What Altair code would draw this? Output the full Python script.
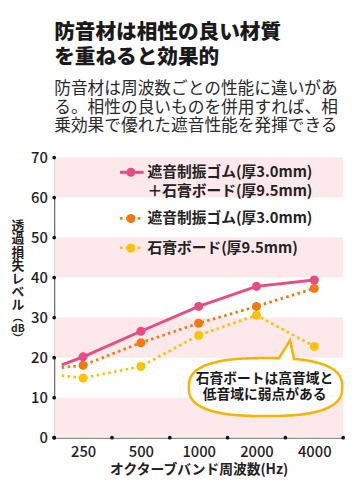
import altair as alt
import pandas as pd
import numpy as np

FONT = "Noto Sans CJK JP"

# ---- data ----
freq_labels = ["250", "500", "1000", "2000", "4000"]
freq_pos = [0, 1, 2, 3, 4]
combo_vals = [20.2, 26.6, 32.8, 37.8, 39.4]    # 遮音制振ゴム+石膏ボード
rubber_vals = [18.1, 23.7, 28.6, 32.8, 37.3]   # 遮音制振ゴム
board_vals = [14.9, 17.8, 25.6, 30.6, 22.8]    # 石膏ボード
start_pos = -0.37
combo_start = 18.2
rubber_start = 17.5
board_start = 15.5
stripe_lo = [0, 20, 40, 60]
y_tick_vals = [0, 10, 20, 30, 40, 50, 60, 70]
x_bound_vals = [-0.5, 0.5, 1.5, 2.5, 3.5, 4.5]

PINK = "#ea4b80"
ORANGE = "#f07a10"
YELLOW = "#fdc300"
STRIPE = "#fde8eb"
AX = "#666666"

W, H = 294, 285

xs = alt.Scale(domain=[-0.5, 4.5], nice=False, zero=False)
ys = alt.Scale(domain=[0, 70], nice=False, zero=True)

label_expr = "[" + ",".join(f"'{l}'" for l in freq_labels) + "][datum.value]"

XAX = alt.Axis(
    values=freq_pos, labelExpr=label_expr, ticks=False, grid=False,
    domainColor=AX, domainWidth=1.2, labelFont=FONT, labelFontSize=15,
    labelFontWeight=500, labelColor="#222", labelPadding=7,
    title="オクターブバンド周波数(Hz)", titleFont=FONT, titleFontSize=14,
    titleFontWeight="bold", titleColor="#222", titlePadding=3)
YAX = alt.Axis(
    values=y_tick_vals, ticks=False, grid=False, domainColor=AX,
    domainWidth=1.2, labelFont=FONT, labelFontSize=15, labelFontWeight=500,
    labelColor="#222", labelPadding=7, title=None)


def X(field):
    return alt.X(field, scale=xs, axis=XAX, title="オクターブバンド周波数(Hz)")


def Y(field):
    return alt.Y(field, scale=ys, axis=YAX, title=None)


def series_df(start, vals):
    return pd.DataFrame({"x": [start_pos] + freq_pos, "y": [start] + vals})


def pts_df(vals):
    return pd.DataFrame({"x": freq_pos, "y": vals})


stripes_df = pd.DataFrame({"y": stripe_lo, "hi": [v + 10 for v in stripe_lo],
                           "x": [-0.5] * 4, "x1": [4.5] * 4})

stripes = alt.Chart(stripes_df).mark_rect(color=STRIPE).encode(
    x=X("x:Q"), x2="x1:Q", y=Y("y:Q"), y2="hi:Q")


def line_layer(start, vals, color, dash=None, width=3.0):
    kw = dict(color=color, strokeWidth=width, clip=False)
    if dash:
        kw["strokeDash"] = dash
    return alt.Chart(series_df(start, vals)).mark_line(**kw).encode(
        x=X("x:Q"), y=Y("y:Q"))


def pt_layer(vals, color):
    return alt.Chart(pts_df(vals)).mark_point(
        filled=True, opacity=1, color=color, size=85, shape="circle").encode(
        x=X("x:Q"), y=Y("y:Q"))


board_line = line_layer(board_start, board_vals, YELLOW, [2.6, 3.4], 2.8)
rubber_line = line_layer(rubber_start, rubber_vals, ORANGE, [2.6, 3.4], 2.8)
combo_line = line_layer(combo_start, combo_vals, PINK, None, 3.0)

ydots = alt.Chart(pd.DataFrame({"y": y_tick_vals, "x": [-0.5] * len(y_tick_vals)})).mark_point(
    filled=True, opacity=1, color="#111", size=14, clip=False).encode(
    x=X("x:Q"), y=Y("y:Q"))
xdots = alt.Chart(pd.DataFrame({"x": x_bound_vals, "y": [0] * len(x_bound_vals)})).mark_point(
    filled=True, opacity=1, color="#111", size=14, clip=False).encode(
    x=X("x:Q"), y=Y("y:Q"))

one = pd.DataFrame({"k": [0]})

# ---- callout bubble (superellipse with a tail) ----
n_exp, bh = 2.6, 0.378
pts = []
tip_done = False
for t in np.linspace(-np.pi / 2, 1.5 * np.pi, 361):
    c, s = np.cos(t), np.sin(t)
    px = np.sign(c) * abs(c) ** (2 / n_exp)
    py = bh * np.sign(s) * abs(s) ** (2 / n_exp)
    if py < 0 and 0.19 < px < 0.37:
        if not tip_done:
            pts.append((0.32, -0.61))
            tip_done = True
        continue
    pts.append((px, py))
bubble_path = "M" + " L".join(f"{a:.4f},{b:.4f}" for a, b in pts) + " Z"

bubble = alt.Chart(one).mark_point(
    shape=bubble_path, size=156 ** 2, filled=False, fill="white", fillOpacity=1,
    stroke="#f5b400", strokeWidth=2.6, opacity=1, clip=False).encode(
    x=alt.value(215), y=alt.value(233.5))
bubble_text = alt.Chart(one).mark_text(
    font=FONT, fontSize=14, fontWeight="bold", color="#1a1a1a", lineHeight=17,
    baseline="top", align="center").encode(
    x=alt.value(214), y=alt.value(218),
    text=alt.value(["石膏ボートは高音域と", "低音域に弱点がある"]))


# ---- legend (manual) ----
def leg_line(y, color, dash=None, width=3.0):
    kw = dict(color=color, strokeWidth=width)
    if dash:
        kw["strokeDash"] = dash
    return alt.Chart(one).mark_rule(**kw).encode(
        x=alt.value(67), x2=alt.value(91), y=alt.value(y))


def leg_pt(y, color):
    return alt.Chart(one).mark_point(filled=True, opacity=1, color=color, size=85).encode(
        x=alt.value(78), y=alt.value(y))


def leg_text(y, txt):
    return alt.Chart(one).mark_text(
        font=FONT, fontSize=15, fontWeight="bold", color="#222", align="left",
        baseline="middle").encode(
        x=alt.value(95), y=alt.value(y), text=alt.value(txt))


legend = [
    leg_line(15, PINK), leg_pt(15, PINK), leg_text(15, "遮音制振ゴム(厚3.0mm)"),
    leg_text(34, "＋石膏ボード(厚9.5mm)"),
    leg_line(62, ORANGE, [2.6, 3.4], 2.8), leg_pt(62, ORANGE), leg_text(62, "遮音制振ゴム(厚3.0mm)"),
    leg_line(92, YELLOW, [2.6, 3.4], 2.8), leg_pt(92, YELLOW), leg_text(92, "石膏ボード(厚9.5mm)"),
]

# ---- vertical y-axis title ----
ytitle1 = alt.Chart(one).mark_text(
    font=FONT, fontSize=13, fontWeight="bold", color="#222", align="center",
    baseline="top", lineHeight=13.4).encode(
    x=alt.value(-37), y=alt.value(64),
    text=alt.value(["透", "過", "損", "失", "レ", "ベ", "ル"]))
ytitle2 = alt.Chart(one).mark_text(
    font=FONT, fontSize=10.5, fontWeight="bold", color="#222", align="center",
    baseline="top", lineHeight=11).encode(
    x=alt.value(-37), y=alt.value(158),
    text=alt.value(["︵", "dB", "︶"]))

chart = alt.layer(
    stripes, board_line, rubber_line, combo_line,
    pt_layer(board_vals, YELLOW), pt_layer(rubber_vals, ORANGE), pt_layer(combo_vals, PINK),
    ydots, xdots, bubble, bubble_text, *legend, ytitle1, ytitle2,
).properties(
    width=W, height=H,
    padding={"left": 3, "top": 10, "right": 5, "bottom": 5},
    title=alt.TitleParams(
        text=["防音材は相性の良い材質", "を重ねると効果的"],
        subtitle=["防音材は周波数ごとの性能に違いがあ", "る。相性の良いものを併用すれば、相", "乗効果で優れた遮音性能を発揮できる"],
        anchor="start", frame="group", font=FONT, fontSize=21, fontWeight=900,
        color="#1a1a1a", lineHeight=25, subtitleFont=FONT, subtitleFontSize=17,
        subtitleColor="#2a2a2a", subtitleLineHeight=18.7, subtitlePadding=14,
        offset=17),
).configure_view(stroke=None)

chart.save("out.html", embed_options={"renderer": "svg", "actions": False})
